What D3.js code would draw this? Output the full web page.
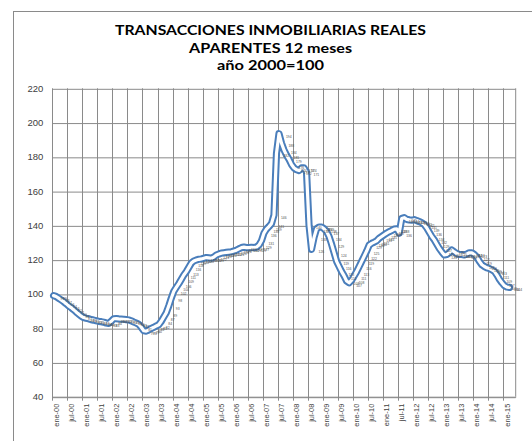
<!DOCTYPE html>
<html>
<head>
<meta charset="utf-8">
<script src="https://cdn.jsdelivr.net/npm/d3@7"></script>
<style>
  html, body { margin: 0; padding: 0; background: #ffffff; }
  svg { display: block; }
</style>
</head>
<body>
<svg id="chart" width="532" height="441"></svg>
<script>
// ---- DATA ----
const titleLines = ["TRANSACCIONES INMOBILIARIAS REALES", "APARENTES 12 meses", "año 2000=100"];
const monthNames = ["ene","feb","mar","abr","may","jun","jul","ago","sep","oct","nov","dic"];
const firstYear = 2000;
const categoryCount = 185; // ene-00 ... may-15 (category slots on the axis)
const yTicks = [40, 60, 80, 100, 120, 140, 160, 180, 200, 220];
const tickLabels = ["ene-00","jul-00","ene-01","jul-01","ene-02","jul-02","ene-03","jul-03","ene-04","jul-04",
  "ene-05","jul-05","ene-06","jul-06","ene-07","jul-07","ene-08","jul-08","ene-09","jul-09",
  "ene-10","jul-10","ene-11","jul-11","ene-12","jul-12","ene-13","jul-13","ene-14","jul-14","ene-15"];
// monthly index values, ene-00 .. mar-15
const values = [
  99, 98.5, 97.5, 96.5, 95.5, 94.3, 93, 92, 90.8, 89.5, 88.3, 87,
  86.2, 85.8, 85.5, 85, 84.7, 84.3, 84, 83.8, 83.5, 83, 82.8, 84,
  85.5, 85.6, 85.4, 85.3, 85.2, 85, 84.8, 84.3, 83.6, 83, 82.3, 80.5,
  78.5, 78.3, 79, 79.8, 80.5, 81.3, 82, 84, 86.5, 89, 93, 97.5,
  101.5, 103.8, 106, 108.5, 111, 113, 115.5, 118, 119.2, 119.8, 120.2, 120.4,
  120.8, 121.2, 121, 120.8, 121.5, 122.7, 123.3, 123.8, 124, 124.2, 124.4, 124.6,
  125, 125.5, 126.3, 127, 127.3, 127, 127, 127.2, 127, 127.3, 128.5, 131,
  135.5, 137.8, 139.3, 141, 146, 182, 193.5, 188, 184, 181, 178.5, 175.5,
  173.5, 172.5, 172, 173.5, 173.5, 171, 140, 126, 133, 138, 139, 139,
  138, 136.5, 133.5, 129, 124, 119, 116, 113, 110.5, 107.5, 106.5, 108,
  110.5, 113, 116, 119, 122, 125, 128.5, 129.5, 130.2, 131, 132.5, 133.5,
  134.5, 135.5, 136.3, 137, 137.8, 138, 135.5, 144, 144.5, 143.5, 143.2, 143,
  143.3, 142.8, 142.2, 141.5, 140.5, 138.5, 136, 133.5, 131.5, 129, 126.5, 124.5,
  122.7, 123, 124, 125.6, 124.5, 123.5, 123, 123, 122.7, 123.3, 124, 124,
  123, 121.5, 119, 117, 116, 115.2, 114.8, 114, 113.2, 111, 108.5, 106.5,
  104.8, 104, 103.8
];

// category labels (month-year)
const categories = d3.range(categoryCount).map(i =>
  monthNames[i % 12] + "-" + String((firstYear + Math.floor(i / 12)) % 100).padStart(2, "0"));
const data = values.map((v, i) => ({ cat: categories[i], v }));

// ---- LAYOUT ----
const svg = d3.select("#chart");
const W = 532, H = 441;
const plot = { left: 52.3, right: 515.7, top: 88.3, bottom: 396.7 };
const gridColor = "#8a8a8a";
const lineColor = "#4a7ebb";
const textColor = "#404040";
const font = "'Liberation Sans', Arial, sans-serif";

// chart area border
svg.append("rect")
  .attr("x", 13.5).attr("y", 11.5)
  .attr("width", W).attr("height", H)
  .attr("fill", "#ffffff").attr("stroke", "#8a8a8a").attr("stroke-width", 1);

// title
const titleY = [35, 53, 70];
svg.append("g").selectAll("text").data(titleLines).enter().append("text")
  .attr("x", 270.5).attr("y", (d, i) => titleY[i])
  .attr("text-anchor", "middle")
  .attr("font-family", "Lato, 'Liberation Sans', Arial, sans-serif")
  .attr("font-weight", "bold")
  .attr("font-size", "14px")
  .attr("fill", "#000")
  .attr("textLength", (d, i) => [311, 163, 107][i])
  .attr("lengthAdjust", "spacingAndGlyphs")
  .text(d => d);

// scales
const x = d3.scaleBand().domain(categories).range([plot.left, plot.right]).paddingInner(0).paddingOuter(0);
const y = d3.scaleLinear().domain([40, 220]).range([plot.bottom, plot.top]);
const xc = c => x(c) + x.bandwidth() / 2;

// vertical gridlines at every labelled category (band start)
const labelledCats = categories.filter(c => tickLabels.includes(c));
svg.append("g").selectAll("line").data(labelledCats).enter().append("line")
  .attr("x1", d => Math.round(x(d)) + 0.5).attr("x2", d => Math.round(x(d)) + 0.5)
  .attr("y1", plot.top).attr("y2", plot.bottom + 4)
  .attr("stroke", gridColor).attr("stroke-width", 1);

// y axis with horizontal gridlines
const yAxis = svg.append("g")
  .attr("transform", `translate(${plot.left},0)`)
  .call(d3.axisLeft(y).tickValues(yTicks).tickSize(-(plot.right - plot.left)).tickPadding(9).tickFormat(d3.format("d")));
yAxis.select(".domain").remove();
yAxis.selectAll(".tick line").attr("stroke", gridColor).attr("stroke-width", 1)
  .attr("transform", "translate(0,0.5)");
yAxis.selectAll(".tick text").attr("font-family", font).attr("font-size", "9.5px").attr("fill", textColor);

// right frame edge
svg.append("line")
  .attr("x1", plot.right).attr("x2", plot.right)
  .attr("y1", plot.top).attr("y2", plot.bottom)
  .attr("stroke", gridColor).attr("stroke-width", 1);

// x axis labels
const xAxis = svg.append("g")
  .attr("transform", `translate(0,${plot.bottom})`)
  .call(d3.axisBottom(x).tickValues(labelledCats).tickSize(0).tickPadding(0));
xAxis.select(".domain").attr("stroke", gridColor);
xAxis.selectAll(".tick text")
  .attr("font-family", font).attr("font-size", "7.4px").attr("fill", textColor)
  .attr("text-anchor", "end")
  .attr("transform", "translate(2.5,7) rotate(-90)")
  .attr("dy", "0.35em").attr("x", 0).attr("y", 0);

// line (double stroke style)
const line = d3.line().x(d => xc(d.cat)).y(d => y(d.v)).curve(d3.curveLinear);
svg.append("path").datum(data)
  .attr("d", line).attr("fill", "none")
  .attr("stroke", lineColor).attr("stroke-width", 7.2)
  .attr("stroke-linejoin", "round").attr("stroke-linecap", "round");
svg.append("path").datum(data)
  .attr("d", line).attr("fill", "none")
  .attr("stroke", "#ffffff").attr("stroke-width", 3.2)
  .attr("stroke-linejoin", "round").attr("stroke-linecap", "round");

// tiny data labels
svg.append("g").selectAll("text").data(data).enter().append("text")
  .attr("x", d => xc(d.cat) + 7)
  .attr("y", d => y(d.v) + 4)
  .attr("font-family", font).attr("font-size", "3.4px").attr("fill", "#505050")
  .text(d => Math.round(d.v));
</script>
</body>
</html>
